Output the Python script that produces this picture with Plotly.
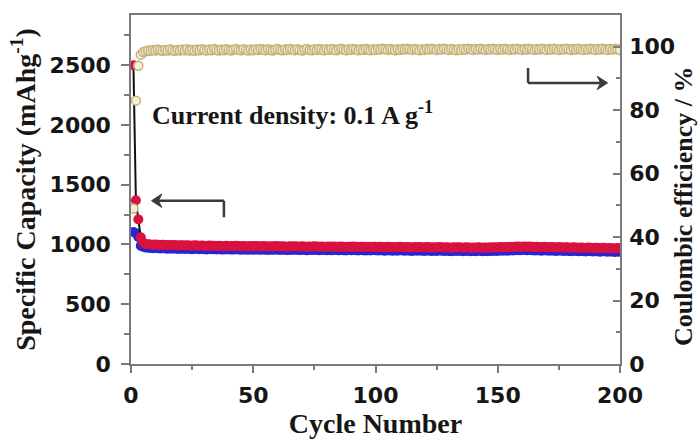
import plotly.graph_objects as go

cycles = list(range(1, 201))

discharge = [
    2500, 1370, 1210, 1060, 1015, 1005, 1002, 1000, 998, 999, 997, 996, 998, 995, 994, 996, 993, 995, 992, 994,
    993, 991, 994, 992, 990, 993, 991, 989, 992, 990, 988, 991, 989, 990, 987, 990, 988, 986, 989, 987,
    988, 986, 989, 987, 985, 988, 986, 984, 987, 985, 988, 986, 984, 987, 985, 983, 986, 984, 987, 985,
    983, 986, 984, 982, 985, 983, 986, 984, 982, 985, 983, 981, 984, 982, 985, 983, 981, 984, 982, 980,
    983, 981, 984, 982, 980, 983, 981, 979, 982, 980, 983, 981, 979, 982, 980, 978, 981, 979, 982, 980,
    978, 981, 979, 977, 980, 978, 976, 979, 977, 980, 978, 976, 979, 977, 975, 978, 976, 979, 977, 975,
    978, 976, 974, 977, 975, 978, 976, 974, 977, 975, 973, 976, 974, 977, 975, 973, 976, 974, 972, 975,
    973, 976, 974, 972, 975, 973, 976, 974, 977, 975, 978, 976, 979, 977, 980, 978, 981, 983, 980, 982,
    984, 981, 983, 980, 978, 981, 979, 977, 980, 978, 976, 979, 977, 975, 978, 976, 974, 977, 975, 973,
    976, 974, 972, 975, 973, 971, 974, 972, 970, 973, 971, 969, 972, 970, 968, 971, 969, 967, 970, 968,
]

charge = [
    1105, 1095, 1062, 990, 980, 975, 972, 971, 969, 970, 968, 967, 969, 966, 965, 967, 964, 966, 963, 965,
    964, 962, 965, 963, 961, 964, 962, 960, 963, 961, 959, 962, 960, 961, 958, 961, 959, 957, 960, 958,
    959, 957, 960, 958, 956, 959, 957, 955, 958, 956, 959, 957, 955, 958, 956, 954, 957, 955, 958, 956,
    954, 957, 955, 953, 956, 954, 957, 955, 953, 956, 954, 952, 955, 953, 956, 954, 952, 955, 953, 951,
    954, 952, 955, 953, 951, 954, 952, 950, 953, 951, 954, 952, 950, 953, 951, 949, 952, 950, 953, 951,
    949, 952, 950, 948, 951, 949, 947, 950, 948, 951, 949, 947, 950, 948, 946, 949, 947, 950, 948, 946,
    949, 947, 945, 948, 946, 949, 947, 945, 948, 946, 944, 947, 945, 948, 946, 944, 947, 945, 943, 946,
    944, 947, 945, 943, 946, 944, 947, 945, 948, 946, 949, 947, 950, 948, 951, 949, 952, 954, 951, 953,
    955, 952, 954, 951, 949, 952, 950, 948, 951, 949, 947, 950, 948, 946, 949, 947, 945, 948, 946, 944,
    947, 945, 943, 946, 944, 942, 945, 943, 941, 944, 942, 940, 943, 941, 939, 942, 940, 938, 941, 939,
]

efficiency = [
    49.0, 83.0, 94.0, 97.5, 98.3, 98.6, 98.8, 98.7, 99.0, 98.8, 99.1, 98.9, 98.7, 99.0, 98.8, 99.2, 98.9, 98.7, 99.0, 98.8,
    99.1, 98.9, 99.2, 98.8, 99.0, 98.7, 99.1, 98.9, 99.2, 99.0, 98.8, 99.1, 98.9, 99.3, 99.0, 98.8, 99.1, 98.9, 99.2, 99.0,
    98.8, 99.1, 99.3, 99.0, 98.9, 99.2, 99.0, 98.8, 99.1, 98.9, 99.2, 99.0, 99.3, 99.1, 98.9, 99.2, 99.0, 98.8, 99.1, 99.3,
    99.0, 98.9, 99.2, 99.0, 99.3, 99.1, 98.9, 99.2, 99.0, 98.8, 99.1, 99.3, 99.0, 98.9, 99.2, 99.0, 99.3, 99.1, 98.9, 99.2,
    99.0, 99.3, 99.1, 98.9, 99.2, 99.4, 99.1, 98.9, 99.2, 99.0, 99.3, 99.1, 98.9, 99.2, 99.0, 99.3, 99.1, 98.9, 99.2, 99.0,
    99.3, 99.1, 99.4, 99.2, 99.0, 99.3, 99.1, 98.9, 99.2, 99.0, 99.3, 99.1, 99.4, 99.2, 99.0, 99.3, 99.1, 98.9, 99.2, 99.0,
    99.3, 99.1, 99.4, 99.2, 99.0, 99.3, 99.1, 99.4, 99.2, 99.0, 99.3, 99.1, 98.9, 99.2, 99.0, 99.3, 99.1, 99.4, 99.2, 99.0,
    99.3, 99.1, 99.4, 99.2, 99.0, 99.3, 99.1, 99.4, 99.2, 99.0, 99.3, 99.1, 99.4, 99.2, 99.0, 99.3, 99.1, 99.4, 99.2, 99.0,
    99.3, 99.1, 99.4, 99.2, 99.0, 99.3, 99.1, 99.4, 99.2, 99.0, 99.3, 99.1, 99.4, 99.2, 99.0, 99.3, 99.1, 99.4, 99.2, 99.0,
    99.3, 99.1, 99.4, 99.2, 99.0, 99.3, 99.1, 99.4, 99.2, 99.0, 99.3, 99.1, 99.4, 99.2, 99.0, 99.3, 99.1, 99.4, 99.2, 99.0,
]

x_ticks = [0, 50, 100, 150, 200]
y_ticks = [0, 500, 1000, 1500, 2000, 2500]
y2_ticks = [0, 20, 40, 60, 80, 100]

RED = "#d8123e"
BLUE = "#2626d6"
TAN_EDGE = "#c4b278"
TAN_FILL = "#f4eed6"
AXIS = "#7a7a7a"
TXT = "#161616"
ARROW = "#3a3a3a"

tick_font = dict(family="DejaVu Sans", size=22, color=TXT, weight="bold")
title_font = dict(family="Liberation Serif", size=28, color=TXT, weight="bold")

fig = go.Figure()

fig.add_trace(go.Scatter(
    x=cycles, y=charge, mode="markers", name="Charge",
    marker=dict(symbol="circle", size=10, color=BLUE, line=dict(width=0)),
    xaxis="x", yaxis="y", showlegend=False))

fig.add_trace(go.Scatter(
    x=cycles, y=discharge, mode="lines+markers", name="Discharge",
    line=dict(color="#111111", width=2),
    marker=dict(symbol="circle", size=10, color=RED, line=dict(width=0)),
    xaxis="x", yaxis="y", showlegend=False))

fig.add_trace(go.Scatter(
    x=cycles, y=efficiency, mode="markers", name="Coulombic efficiency",
    marker=dict(symbol="circle", size=9, color=TAN_FILL, line=dict(width=1.5, color=TAN_EDGE)),
    xaxis="x", yaxis="y2", showlegend=False))

fig.update_layout(
    width=699, height=446,
    margin=dict(l=131, r=79, t=15, b=72),
    paper_bgcolor="white", plot_bgcolor="white",
    xaxis=dict(
        range=[0, 200], tickvals=x_ticks, ticks="outside", ticklen=7, tickwidth=1.5,
        tickcolor=AXIS, showline=True, linecolor=AXIS, linewidth=1.5, mirror=True,
        showgrid=False, zeroline=False, tickfont=tick_font, ticklabelstandoff=4,
        minor=dict(dtick=25, tick0=0, ticks="outside", ticklen=4, tickcolor=AXIS, showgrid=False),
        title=dict(text="Cycle Number", font=title_font, standoff=6),
    ),
    yaxis=dict(
        range=[0, 2920], tickvals=y_ticks, ticks="outside", ticklen=8, tickwidth=1.5,
        tickcolor=AXIS, showline=True, linecolor=AXIS, linewidth=1.5,
        showgrid=False, zeroline=False, tickfont=tick_font, ticklabelstandoff=6,
        minor=dict(dtick=250, tick0=0, ticks="outside", ticklen=5, tickcolor=AXIS, showgrid=False),
        title=dict(text="Specific Capacity (mAhg<sup>-1</sup>)", font=title_font, standoff=6),
    ),
    yaxis2=dict(
        range=[0, 110], tickvals=y2_ticks, overlaying="y", side="right", ticks="inside",
        ticklen=7, tickwidth=1.5, tickcolor=AXIS, showline=True, linecolor=AXIS, linewidth=1.5,
        showgrid=False, zeroline=False, tickfont=tick_font, ticklabelstandoff=3,
        minor=dict(dtick=10, tick0=0, ticks="inside", ticklen=4, tickcolor=AXIS, showgrid=False),
    ),
)

# right axis title
fig.add_annotation(
    text="Coulombic efficiency / %", textangle=-90,
    font=dict(family="Liberation Serif", size=26, color=TXT, weight="bold"),
    xref="paper", yref="paper", x=1.0, y=0.45, xshift=64, xanchor="center", yanchor="middle",
    showarrow=False)

# condition label
fig.add_annotation(
    text="Current density: 0.1 A g<sup>-1</sup>", xref="x", yref="y", x=7.8, y=2098,
    xanchor="left", yanchor="middle", showarrow=False,
    font=dict(family="Liberation Serif", size=26, color=TXT, weight="bold"))

# left-pointing elbow arrow (capacity -> left axis)
fig.add_shape(type="line", xref="x", yref="y", x0=38.0, y0=1366, x1=38.0, y1=1228,
              line=dict(color=ARROW, width=2.5))
fig.add_shape(type="line", xref="x", yref="y", x0=38.0, y0=1366, x1=11.0, y1=1366,
              line=dict(color=ARROW, width=2.5))
fig.add_shape(type="path", xref="x", yref="y",
              path="M 8.4 1366 L 12.6 1310 L 11.2 1366 L 12.6 1422 Z",
              fillcolor=ARROW, line=dict(color=ARROW, width=1))

# right-pointing elbow arrow (efficiency -> right axis)
fig.add_shape(type="line", xref="x", yref="y2", x0=162.4, y0=93.3, x1=162.4, y1=88.6,
              line=dict(color=ARROW, width=2.5))
fig.add_shape(type="line", xref="x", yref="y2", x0=162.4, y0=88.6, x1=192.0, y1=88.6,
              line=dict(color=ARROW, width=2.5))
fig.add_shape(type="path", xref="x", yref="y2",
              path="M 194.9 88.6 L 190.7 86.5 L 192.1 88.6 L 190.7 90.7 Z",
              fillcolor=ARROW, line=dict(color=ARROW, width=1))

fig.write_html("out.html")
